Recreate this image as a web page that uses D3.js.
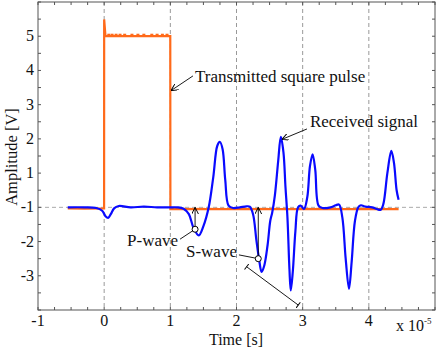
<!DOCTYPE html>
<html>
<head>
<meta charset="utf-8">
<script src="https://cdn.jsdelivr.net/npm/d3@7"></script>
<style>
  body { margin: 0; background: #fff; }
  text { font-family: "Liberation Serif", serif; fill: #111; }
</style>
</head>
<body>
<div id="chart"></div>
<script>
// received signal (time in 1e-5 s, amplitude V)
var receivedT = [-0.55, -0.3, -0.12, -0.03, 0.02, 0.06, 0.1, 0.15, 0.22, 0.4, 0.6, 0.8, 1.0, 1.1, 1.2, 1.28, 1.35, 1.43, 1.5, 1.58, 1.65, 1.71, 1.75, 1.79, 1.83, 1.88, 1.95, 2.05, 2.15, 2.2, 2.25, 2.3, 2.34, 2.38, 2.42, 2.47, 2.51, 2.54, 2.58, 2.63, 2.67, 2.71, 2.74, 2.77, 2.8, 2.82, 2.85, 2.89, 2.93, 2.97, 3.02, 3.07, 3.11, 3.15, 3.19, 3.24, 3.3, 3.42, 3.5, 3.55, 3.6, 3.65, 3.7, 3.74, 3.79, 3.84, 3.88, 3.95, 4.05, 4.12, 4.18, 4.22, 4.28, 4.34, 4.38, 4.42, 4.45];
var receivedV = [0, 0, -0.02, -0.1, -0.26, -0.31, -0.2, -0.03, 0.04, 0.0, 0.02, 0.0, 0.0, 0.0, -0.04, -0.2, -0.6, -0.82, -0.55, 0.0, 0.9, 1.8, 1.91, 1.7, 0.8, 0.05, -0.02, 0.0, 0.03, 0.02, -0.2, -0.95, -1.5, -1.89, -1.7, -1.1, -0.4, -0.15, 0.35, 1.35, 2.06, 1.6, 0.6, -0.3, -1.8, -2.43, -1.9, -0.7, 0.0, 0.05, -0.05, 0.3, 1.2, 1.55, 1.1, 0.05, -0.02, 0.0, 0.06, 0.08, -0.3, -1.5, -2.38, -1.6, -0.4, 0.0, 0.06, 0.02, 0.0, -0.05, -0.07, 0.1, 1.0, 1.65, 1.3, 0.5, 0.22];

// transmitted square pulse
var pulseT = [-0.55, -0.3, -0.001, 0.0, 0.02, 0.5, 0.999, 1.001, 2.0, 3.0, 4.45];
var pulseV = [-0.03, -0.04, -0.03, 5.49, 5.0, 5.0, 5.0, -0.05, -0.05, -0.05, -0.05];
// noise flecks on the pulse
var noiseTopT = [0.07, 0.12, 0.18, 0.24, 0.31, 0.42, 0.51, 0.6, 0.72, 0.8, 0.88, 0.95];
var noiseLowT = [1.08, 1.15, 1.22, 1.3, 1.42, 1.5, 1.62, 1.7, 1.8, 1.92, 2.02, 2.12, 2.25, 2.36, 2.45, 2.6, 2.72, 2.85, 2.98, 3.1, 3.22, 3.35, 3.47, 3.58, 3.7, 3.82, 3.95, 4.05, 4.18, 4.3, 4.4];

var xTicks = [-1, 0, 1, 2, 3, 4];
var xGrid = [0, 1, 2, 3, 4];
var yTickVals = [-2, -1, 0, 1, 2, 3, 4, 5];
var yTickLabels = ["-3", "-2", "-1", "1", "2", "3", "4", "5"];

var W = 436, H = 349;
var svg = d3.select("#chart").append("svg").attr("width", W).attr("height", H);

var x = d3.scaleLinear().domain([-1, 5]).range([38, 435]);
var y = d3.scaleLinear().domain([-3, 6]).range([310, 2]);

// grid
svg.selectAll("line.vgrid").data(xGrid).enter().append("line")
  .attr("x1", function (d) { return x(d); }).attr("x2", function (d) { return x(d); })
  .attr("y1", y(6)).attr("y2", y(-3))
  .style("stroke", "#999").style("stroke-dasharray", "4,3");
svg.append("line")
  .attr("x1", x(-1)).attr("x2", x(5)).attr("y1", y(0)).attr("y2", y(0))
  .style("stroke", "#aaa").style("stroke-dasharray", "4,3");

// minor ticks all round, pointing in
var xMinor = d3.range(-1, 5.001, 0.25);
var yMinor = d3.range(-3, 6.001, 0.5);
var ticks = svg.append("g").style("stroke", "#555");
xMinor.forEach(function (t) {
  ticks.append("line").attr("x1", x(t)).attr("x2", x(t)).attr("y1", y(-3)).attr("y2", y(-3) - 3);
  ticks.append("line").attr("x1", x(t)).attr("x2", x(t)).attr("y1", y(6)).attr("y2", y(6) + 3);
});
yMinor.forEach(function (t) {
  ticks.append("line").attr("x1", x(-1)).attr("x2", x(-1) + 3).attr("y1", y(t)).attr("y2", y(t));
  ticks.append("line").attr("x1", x(5)).attr("x2", x(5) - 3).attr("y1", y(t)).attr("y2", y(t));
});

// pulse
var pulse = pulseT.map(function (t, i) { return [t, pulseV[i]]; });
svg.append("path").datum(pulse)
  .attr("d", d3.line().x(function (d) { return x(d[0]); }).y(function (d) { return y(d[1]); }))
  .style("fill", "none").style("stroke", "#ff6a1a").style("stroke-width", 2.2);
svg.selectAll("rect.ntop").data(noiseTopT).enter().append("rect")
  .attr("x", function (d) { return x(d) - 1.5; }).attr("y", y(5) - 2.5)
  .attr("width", 3).attr("height", 2).style("fill", "#ff6a1a");
svg.selectAll("rect.nlow").data(noiseLowT).enter().append("rect")
  .attr("x", function (d) { return x(d) - 1.5; }).attr("y", y(0) + 0.5)
  .attr("width", 3).attr("height", 2).style("fill", "#ff6a1a");

// received
var recv = receivedT.map(function (t, i) { return [t, receivedV[i]]; });
svg.append("path").datum(recv)
  .attr("d", d3.line().curve(d3.curveCatmullRom.alpha(0.5))
    .x(function (d) { return x(d[0]); }).y(function (d) { return y(d[1]); }))
  .style("fill", "none").style("stroke", "#0a0aff").style("stroke-width", 2.2);

// frame
svg.append("rect").attr("x", x(-1)).attr("y", y(6))
  .attr("width", x(5) - x(-1)).attr("height", y(-3) - y(6))
  .style("fill", "none").style("stroke", "#555");

// tick labels
svg.selectAll("text.xt").data(xTicks).enter().append("text")
  .attr("x", function (d) { return x(d); }).attr("y", 326)
  .attr("text-anchor", "middle").style("font-size", "16px")
  .text(function (d) { return d; });
svg.selectAll("text.yt").data(yTickVals).enter().append("text")
  .attr("x", 34).attr("y", function (d) { return y(d) + 5; })
  .attr("text-anchor", "end").style("font-size", "16px")
  .text(function (d, i) { return yTickLabels[i]; });

svg.append("text").attr("x", 236).attr("y", 345).attr("text-anchor", "middle")
  .style("font-size", "16px").text("Time [s]");
svg.append("text").attr("transform", "translate(17,157) rotate(-90)")
  .attr("text-anchor", "middle").style("font-size", "16.5px").text("Amplitude [V]");
var ex = svg.append("text").attr("x", 396).attr("y", 331).style("font-size", "16px");
ex.append("tspan").text("x 10");
ex.append("tspan").attr("dy", -7).style("font-size", "9px").text("-5");

// annotations
var defs = svg.append("defs");
defs.append("marker").attr("id", "arr").attr("viewBox", "0 0 10 10")
  .attr("refX", 10).attr("refY", 5).attr("markerWidth", 7).attr("markerHeight", 7)
  .attr("markerUnits", "userSpaceOnUse").attr("orient", "auto")
  .append("path").attr("d", "M0,0 L10,5 L0,10").style("fill", "none").style("stroke", "#000").style("stroke-width", 1.4);
defs.append("marker").attr("id", "bar").attr("viewBox", "0 0 10 10")
  .attr("refX", 5).attr("refY", 5).attr("markerWidth", 7).attr("markerHeight", 7)
  .attr("markerUnits", "userSpaceOnUse").attr("orient", "auto")
  .append("path").attr("d", "M5,0 L5,10").style("stroke", "#000").style("stroke-width", 1.4);

function seg(a, b, marker) {
  var l = svg.append("line")
    .attr("x1", x(a[0])).attr("y1", y(a[1])).attr("x2", x(b[0])).attr("y2", y(b[1]))
    .style("stroke", "#000").style("stroke-width", 0.9);
  if (marker == "arr") l.attr("marker-end", "url(#arr)");
  if (marker == "bar") l.attr("marker-start", "url(#bar)").attr("marker-end", "url(#bar)");
  return l;
}
function label(p, s, anchor) {
  svg.append("text").attr("x", x(p[0])).attr("y", y(p[1]))
    .attr("text-anchor", anchor).style("font-size", "17px").text(s);
}

label([1.372, 3.66], "Transmitted square pulse", "start");
seg([1.342, 3.84], [1.01, 3.41], "arr");

label([3.11, 2.34], "Received signal", "start");
seg([3.065, 2.29], [2.686, 1.985], "arr");

label([1.116, -1.12], "P-wave", "end");
seg([1.147, -0.93], [1.374, -0.64]);
seg([1.374, -0.64], [1.374, 0.0], "arr");

label([2.007, -1.44], "S-wave", "end");
seg([2.037, -1.39], [2.329, -1.50]);
seg([2.329, -1.50], [2.329, 0.0], "arr");

seg([2.153, -1.736], [2.933, -2.855], "bar");

svg.selectAll("circle.pick").data([[1.374, -0.64], [2.329, -1.50]]).enter().append("circle")
  .attr("cx", function (d) { return x(d[0]); }).attr("cy", function (d) { return y(d[1]); })
  .attr("r", 3).style("fill", "#fff").style("stroke", "#000").style("stroke-width", 1);
</script>
</body>
</html>
